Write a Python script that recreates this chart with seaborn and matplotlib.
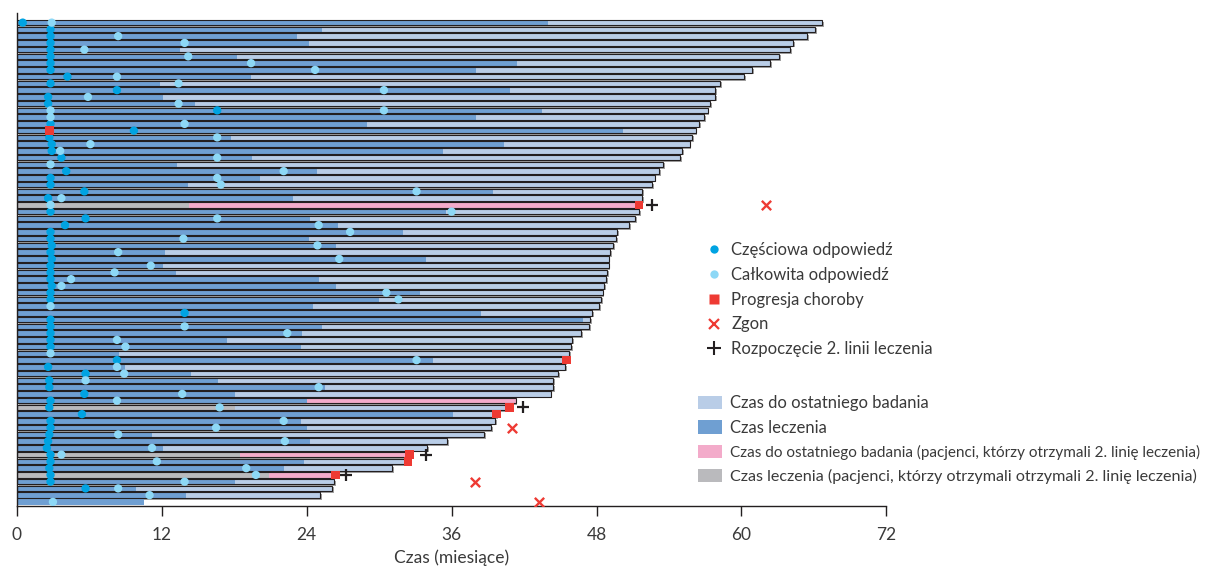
import matplotlib
matplotlib.use("Agg")
import matplotlib.pyplot as plt
import matplotlib.patheffects as pe
from matplotlib.lines import Line2D
from matplotlib.patches import Patch
import seaborn as sns

# ---- data: one row per patient, listed top to bottom (months) ----
patient = list(range(1, 73))

treatment_end = [
    44.0, 25.3, 23.2, 24.2, 13.5, 18.2, 41.4, 38.0, 19.4, 11.9,
    40.8, 12.1, 14.8, 43.5, 38.0, 29.0, 50.2, 17.7, 40.3, 35.3,
    19.5, 13.3, 24.9, 20.1, 14.2, 39.4, 22.9, 14.3, 35.5, 24.3,
    26.6, 32.0, 24.2, 26.4, 12.3, 33.9, 12.1, 13.2, 25.0, 26.4,
    33.4, 30.0, 24.5, 38.4, 46.9, 25.3, 23.6, 17.4, 23.5, 8.5,
    34.5, 9.0, 14.4, 16.7, 25.5, 18.1, 24.0, 18.1, 36.1, 23.5,
    24.0, 11.2, 24.3, 12.1, 18.5, 23.8, 22.1, 20.9, 18.1, 9.9,
    14.0, 10.5,
]

last_exam = [
    66.7, 66.1, 65.4, 64.3, 64.0, 63.1, 62.4, 60.9, 60.2, 58.2,
    57.8, 57.8, 57.4, 57.2, 56.9, 56.5, 56.2, 55.9, 55.7, 55.1,
    54.9, 53.5, 53.2, 52.8, 52.6, 51.8, 51.8, 51.5, 51.5, 51.2,
    50.7, 49.7, 49.6, 49.4, 49.1, 49.0, 49.0, 48.9, 48.8, 48.6,
    48.5, 48.4, 48.2, 47.6, 47.5, 47.4, 46.7, 46.0, 45.9, 45.7,
    45.4, 45.4, 44.8, 44.4, 44.4, 44.2, 41.3, 40.5, 39.7, 39.6,
    39.3, 38.7, 35.6, 34.0, 32.3, 32.2, 31.1, 26.1, 26.3, 26.1,
    25.1, 10.5,
]

# patients whose segments belong to the second-line group
second_line_exam_rows = [28, 57, 65, 68]
second_line_treatment_rows = [28, 58, 65, 68]

partial_patient = [1, 2, 3, 4, 5, 6, 7, 8, 9, 10, 11, 12, 13, 14, 16, 17, 18, 19, 20,
                   21, 23, 24, 25, 26, 27, 29, 30, 31, 32, 33, 34, 35, 36, 37, 38,
                   39, 40, 41, 42, 44, 45, 46, 47, 48, 49, 51, 52, 53, 54, 55, 56,
                   57, 58, 59, 60, 61, 62, 63, 64, 65, 66, 67, 68, 69, 70]
partial_month = [0.5, 2.8, 2.8, 2.8, 2.8, 2.8, 2.8, 2.8, 4.2, 2.8, 8.3, 2.6, 2.6, 16.6,
                 2.8, 9.7, 2.7, 2.9, 2.9, 3.7, 4.1, 2.8, 2.8, 5.6, 2.6, 2.8, 5.7, 4.0,
                 2.8, 2.8, 2.9, 2.8, 2.9, 2.8, 2.8, 2.8, 2.9, 2.8, 2.8, 13.9, 2.8,
                 2.8, 2.8, 2.8, 2.8, 8.3, 2.6, 5.7, 2.7, 2.7, 5.6, 2.8, 2.7, 5.4,
                 2.8, 2.8, 2.7, 2.6, 2.5, 2.8, 2.8, 2.7, 2.8, 2.8, 5.7]

complete_patient = [1, 3, 4, 5, 6, 7, 8, 9, 10, 11, 12, 13, 14, 14, 15, 16, 18, 19, 20,
                    21, 22, 23, 24, 25, 26, 27, 28, 29, 30, 31, 32, 33, 34, 35, 36,
                    37, 38, 39, 40, 41, 42, 43, 46, 47, 48, 49, 50, 51, 52, 53, 54,
                    55, 56, 57, 58, 60, 61, 62, 63, 64, 65, 66, 67, 68, 69, 70, 71, 72]
complete_month = [2.9, 8.4, 13.9, 5.6, 14.2, 19.4, 24.7, 8.3, 13.4, 30.4, 5.9, 13.4,
                  2.8, 30.4, 2.8, 13.9, 16.6, 6.1, 3.6, 16.6, 2.8, 22.1, 16.6, 16.9,
                  33.1, 3.7, 2.8, 36.0, 16.6, 25.0, 27.6, 13.8, 24.9, 8.4, 26.7, 11.1,
                  8.1, 4.5, 3.7, 30.6, 31.6, 2.8, 13.9, 22.4, 8.3, 9.0, 2.8, 33.1,
                  8.3, 8.9, 5.7, 25.0, 13.7, 8.3, 16.8, 22.1, 16.5, 8.4, 22.2, 11.2,
                  3.7, 11.6, 19.0, 19.8, 13.9, 8.4, 11.0, 3.0]

progression_patient = [17, 28, 51, 58, 59, 65, 66, 68]
progression_month = [2.7, 51.5, 45.5, 40.8, 39.7, 32.5, 32.4, 26.4]

death_patient = [28, 61, 69, 72]
death_month = [62.0, 41.0, 37.9, 43.2]

second_line_patient = [28, 58, 65, 68]
second_line_month = [52.6, 41.9, 33.9, 27.3]

legend_markers = ["Częściowa odpowiedź", "Całkowita odpowiedź", "Progresja choroby",
                  "Zgon", "Rozpoczęcie 2. linii leczenia"]
legend_bars = ["Czas do ostatniego badania", "Czas leczenia",
               "Czas do ostatniego badania (pacjenci, którzy otrzymali 2. linię leczenia)",
               "Czas leczenia (pacjenci, którzy otrzymali otrzymali 2. linię leczenia)"]
x_ticks = [0, 12, 24, 36, 48, 60, 72]

# ---- style ----
LIGHT = "#b9cde7"
DARK = "#6f9fd2"
PINK = "#f3abca"
GREY = "#bababd"
PR_C = "#00a3e2"
CR_C = "#8dd8f6"
RED = "#ee3a33"
EDGE = "#231f20"
TEXT = "#3a3a3a"

sns.set_theme(style="ticks")
plt.rcParams["font.family"] = ["Lato", "DejaVu Sans"]

fig = plt.figure(figsize=(12.2, 5.69), dpi=100)
ax = fig.add_axes([0.01369, 0.1107, 0.7129, 0.8665])

H = 0.8
LW = 0.8

exam_colors = [PINK if p in second_line_exam_rows else LIGHT for p in patient]
treat_colors = [GREY if p in second_line_treatment_rows else DARK for p in patient]
has_followup = [e > t for e, t in zip(last_exam, treatment_end)]

# follow-up bars (with a soft drop shadow)
exam_bars = ax.barh(patient, last_exam, height=H, color=exam_colors, linewidth=0, zorder=1)
for bar, f in zip(exam_bars, has_followup):
    if f:
        bar.set_path_effects([pe.SimplePatchShadow(offset=(1.3, -1.3),
                                                   shadow_rgbFace="#555555", alpha=0.55),
                              pe.Normal()])

# treatment segments
ax.barh(patient, treatment_end, height=H, color=treat_colors, linewidth=0, zorder=2)

# outlines around the full bar
out_p = [p for p, f in zip(patient, has_followup) if f]
out_w = [w for w, f in zip(last_exam, has_followup) if f]
ax.barh(out_p, out_w, height=H, fill=False, edgecolor=EDGE, linewidth=LW, zorder=3)

# event markers
sns.scatterplot(x=partial_month, y=partial_patient, marker="o", s=36, color=PR_C,
                edgecolor="none", linewidth=0, ax=ax, legend=False, zorder=5)
sns.scatterplot(x=complete_month, y=complete_patient, marker="o", s=36, color=CR_C,
                edgecolor="none", linewidth=0, ax=ax, legend=False, zorder=5)
sns.scatterplot(x=progression_month, y=progression_patient, marker="s", s=38, color=RED,
                edgecolor="none", linewidth=0, ax=ax, legend=False, zorder=6)
sns.scatterplot(x=death_month, y=death_patient, marker="x", s=45, color=RED,
                linewidth=1.7, ax=ax, legend=False, zorder=6)
sns.scatterplot(x=second_line_month, y=second_line_patient, marker="+", s=80, color=EDGE,
                linewidth=1.6, ax=ax, legend=False, zorder=6)

# axes
ax.set_xlim(0, 72)
ax.set_ylim(72.61, -0.43)
ax.set_xticks(x_ticks)
ax.set_xticklabels([str(t) for t in x_ticks])
ax.set_yticks([])
ax.set_ylabel("")
ax.set_xlabel("Czas (miesiące)", fontsize=12.5, color=TEXT, labelpad=5)
ax.tick_params(axis="x", length=7, width=1, color=EDGE, labelsize=12.5,
               labelcolor=TEXT, pad=8)
for side in ("top", "right"):
    ax.spines[side].set_visible(False)
for side in ("left", "bottom"):
    ax.spines[side].set_color(EDGE)
    ax.spines[side].set_linewidth(1.0)

# legends
marker_handles = [
    Line2D([], [], ls="none", marker="o", ms=6, mfc=PR_C, mec="none"),
    Line2D([], [], ls="none", marker="o", ms=6, mfc=CR_C, mec="none"),
    Line2D([], [], ls="none", marker="s", ms=7, mfc=RED, mec="none"),
    Line2D([], [], ls="none", marker="x", ms=7, mec=RED, mew=1.6),
    Line2D([], [], ls="none", marker="+", ms=10, mec=EDGE, mew=1.5),
]
bar_handles = [Patch(facecolor=c, edgecolor="none") for c in (LIGHT, DARK, PINK, GREY)]

FS = 12
leg1 = fig.legend(marker_handles, legend_markers, loc="center left",
                  bbox_to_anchor=(0.5718, 0.4736), frameon=False, fontsize=FS,
                  handlelength=1.0, handletextpad=0.52, labelspacing=0.53, borderpad=0,
                  labelcolor=TEXT)
leg2 = fig.legend(bar_handles, legend_bars, loc="center left",
                  bbox_to_anchor=(0.5656, 0.2276), frameon=False, fontsize=FS,
                  handlelength=1.44, handleheight=0.84, handletextpad=0.48,
                  labelspacing=0.53, borderpad=0, labelcolor=TEXT)
# the two long descriptions are set a touch smaller so they stay on the canvas
long_texts = leg2.get_texts()
long_texts[2].set_fontsize(11.0)
long_texts[3].set_fontsize(11.6)

fig.savefig("out.png", dpi=100)
